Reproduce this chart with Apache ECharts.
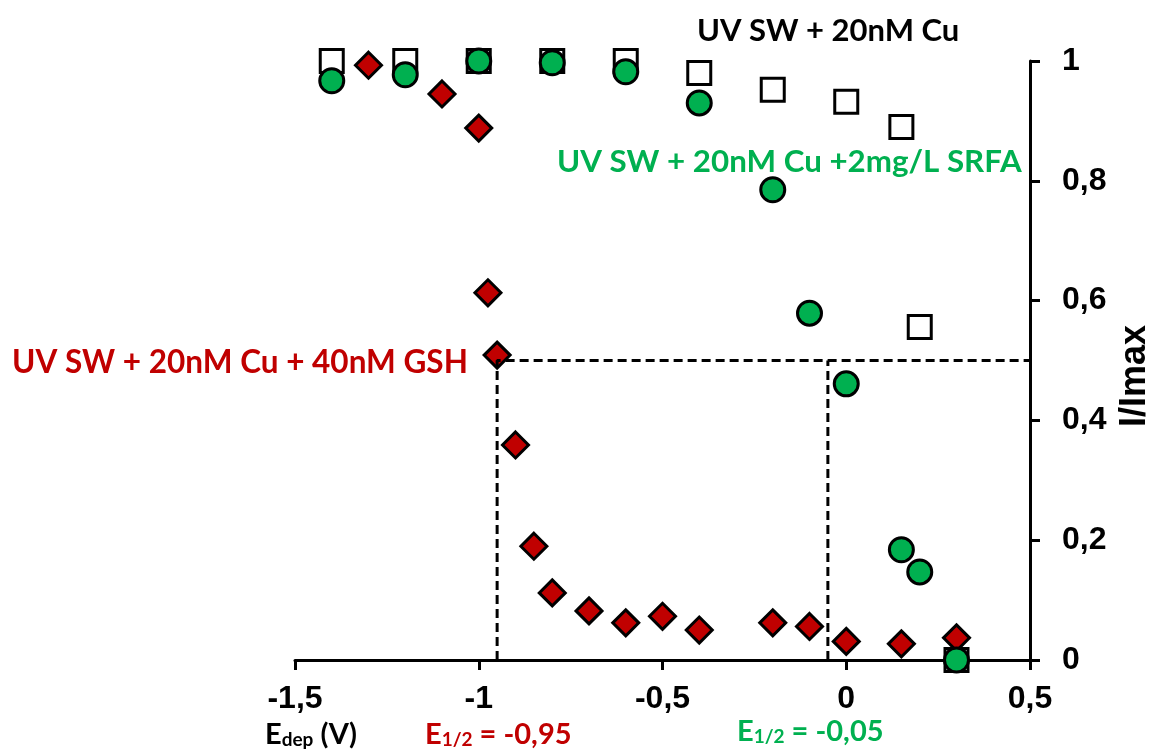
<!DOCTYPE html>
<html>
<head>
<meta charset="utf-8">
<script src="https://cdn.jsdelivr.net/npm/echarts@6/dist/echarts.min.js"></script>
<style>
  html, body { margin: 0; padding: 0; background: #fff; }
  #main { width: 1157px; height: 756px; }
</style>
</head>
<body>
<div id="main"></div>
<script>
// UV SW + 20nM Cu (open squares)
const xCu = [-1.4, -1.2, -1.0, -0.8, -0.6, -0.4, -0.2, 0, 0.15, 0.2, 0.3];
const yCu = [1.0, 1.0, 1.0, 1.0, 1.0, 0.98, 0.952, 0.932, 0.89, 0.556, 0];
// UV SW + 20nM Cu +2mg/L SRFA (green circles)
const xSrfa = [-1.4, -1.2, -1.0, -0.8, -0.6, -0.4, -0.2, -0.1, 0, 0.15, 0.2, 0.3];
const ySrfa = [0.967, 0.977, 1.0, 0.997, 0.982, 0.93, 0.785, 0.579, 0.461, 0.184, 0.147, 0];
// UV SW + 20nM Cu + 40nM GSH (red diamonds)
const xGsh = [-1.3, -1.1, -1.0, -0.975, -0.95, -0.9, -0.85, -0.8, -0.7, -0.6, -0.5, -0.4, -0.2, -0.1, 0, 0.15, 0.3];
const yGsh = [0.993, 0.945, 0.888, 0.613, 0.509, 0.359, 0.19, 0.112, 0.082, 0.062, 0.073, 0.05, 0.062, 0.056, 0.031, 0.027, 0.037];
// E1/2 guide lines
const halfGsh = [[-0.95, 0], [-0.95, 0.5], [0.5, 0.5]];
const halfSrfa = [[-0.05, 0], [-0.05, 0.5]];

const xTicks = { '-1.5': '-1,5', '-1': '-1', '-0.5': '-0,5', '0': '0', '0.5': '0,5' };
const yTicks = { '0': '0', '0.2': '0,2', '0.4': '0,4', '0.6': '0,6', '0.8': '0,8', '1': '1' };

const zip = (xs, ys) => xs.map((x, i) => [x, ys[i]]);

const chart = echarts.init(document.getElementById('main'));
const labelFont = '"Liberation Sans", Arial, sans-serif';
const textFont = 'Lato, "Noto Sans", sans-serif';

// E + subscript text used under the x axis
function subText(main, sub, rest, color) {
  return {
    text: '{m|' + main + '}{s|' + sub + '}{m|' + rest + '}',
    rich: {
      m: { font: 'bold 29px ' + textFont, fill: color, verticalAlign: 'bottom' },
      s: { font: 'bold 19px ' + textFont, fill: color, padding: [9, 0, 0, 0], verticalAlign: 'bottom' }
    }
  };
}

chart.setOption({
  animation: false,
  grid: { left: 295, right: 127, top: 61, bottom: 96 },
  xAxis: {
    type: 'value', min: -1.5, max: 0.5, interval: 0.5,
    splitLine: { show: false },
    axisLine: { onZero: false, lineStyle: { color: '#000', width: 3 } },
    axisTick: { length: 10, lineStyle: { color: '#000', width: 3 } },
    axisLabel: {
      margin: 23, color: '#000', fontFamily: labelFont, fontWeight: 'bold', fontSize: 32,
      formatter: v => xTicks[String(Math.round(v * 10) / 10)]
    }
  },
  yAxis: {
    type: 'value', min: 0, max: 1, interval: 0.2, position: 'right',
    splitLine: { show: false },
    axisLine: { show: true, onZero: false, lineStyle: { color: '#000', width: 3 } },
    axisTick: { show: true, length: 10, lineStyle: { color: '#000', width: 3 } },
    axisLabel: {
      margin: 32, color: '#000', fontFamily: labelFont, fontWeight: 'bold', fontSize: 32,
      formatter: v => yTicks[String(Math.round(v * 10) / 10)]
    }
  },
  series: [
    {
      name: 'GSH', type: 'scatter', symbol: 'diamond', symbolSize: 26,
      itemStyle: { color: '#C00000', borderColor: '#000', borderWidth: 3, opacity: 1 },
      data: zip(xGsh, yGsh)
    },
    {
      name: 'Cu', type: 'scatter', symbol: 'rect', symbolSize: 23,
      itemStyle: { color: '#fff', borderColor: '#000', borderWidth: 3, opacity: 1 },
      data: zip(xCu, yCu)
    },
    {
      name: 'SRFA', type: 'scatter', symbol: 'circle', symbolSize: 24,
      itemStyle: { color: '#00B050', borderColor: '#000', borderWidth: 3, opacity: 1 },
      data: zip(xSrfa, ySrfa)
    },
    {
      type: 'line', data: halfGsh, symbol: 'none', silent: true,
      lineStyle: { color: '#000', width: 3, type: [9, 5] }
    },
    {
      type: 'line', data: halfSrfa, symbol: 'none', silent: true,
      lineStyle: { color: '#000', width: 3, type: [9, 5] }
    }
  ],
  graphic: [
    {
      type: 'text', left: 697, top: 15,
      style: { text: 'UV SW + 20nM Cu', fill: '#000', font: 'bold 31px ' + textFont }
    },
    {
      type: 'text', left: 557, top: 146,
      style: { text: 'UV SW + 20nM Cu +2mg/L SRFA', fill: '#00B050', font: 'bold 31.3px ' + textFont }
    },
    {
      type: 'text', left: 12, top: 347,
      style: { text: 'UV SW + 20nM Cu + 40nM GSH', fill: '#C00000', font: 'bold 31.5px ' + textFont }
    },
    {
      type: 'text', x: 1135, y: 376, rotation: Math.PI / 2,
      style: {
        text: 'I/Imax', fill: '#000', font: 'bold 36px ' + labelFont,
        align: 'center', verticalAlign: 'middle'
      }
    },
    { type: 'text', left: 265, top: 720, style: subText('E', 'dep', ' (V)', '#000') },
    { type: 'text', left: 425, top: 720, style: subText('E', '1/2', ' = -0,95', '#C00000') },
    { type: 'text', left: 737, top: 717, style: subText('E', '1/2', ' = -0,05', '#00B050') }
  ]
});
</script>
</body>
</html>
